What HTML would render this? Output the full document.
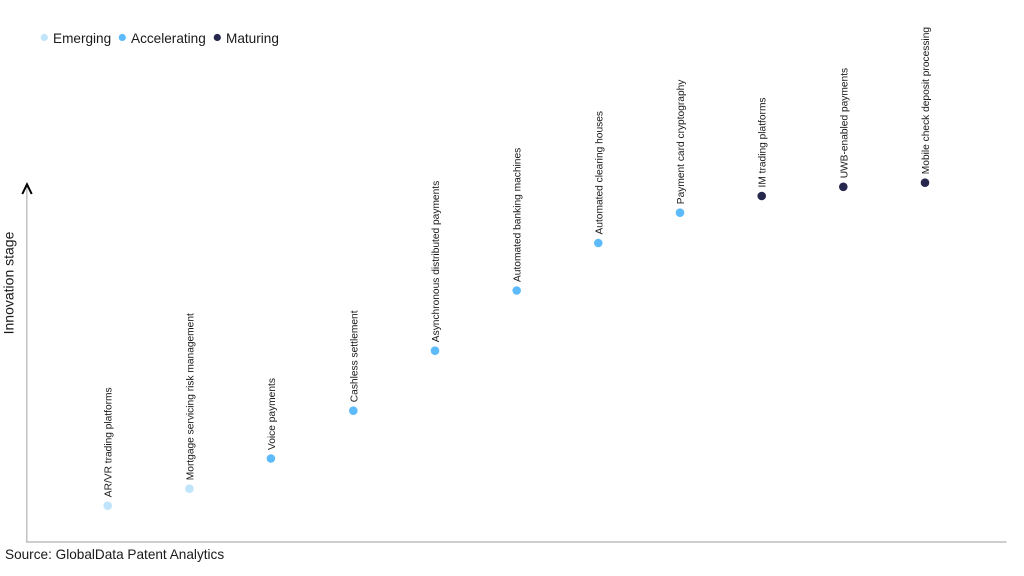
<!DOCTYPE html>
<html>
<head>
<meta charset="utf-8">
<style>
html,body{margin:0;padding:0;background:#fff;}
svg{display:block;font-family:"Liberation Sans",Arial,sans-serif;}
</style>
</head>
<body>
<svg width="1024" height="576" viewBox="0 0 1024 576" xmlns="http://www.w3.org/2000/svg">
  <rect width="1024" height="576" fill="#fff"/>
  <!-- Legend -->
  <circle cx="44.3" cy="37.5" r="3.6" fill="#c0e4fb"/>
  <text x="53" y="42.8" font-size="13.6" fill="#1a1a1a">Emerging</text>
  <circle cx="122.3" cy="37.5" r="3.6" fill="#5ebbfb"/>
  <text x="131" y="42.8" font-size="13.6" fill="#1a1a1a">Accelerating</text>
  <circle cx="217.3" cy="37.5" r="3.6" fill="#26284d"/>
  <text x="226" y="42.8" font-size="13.6" fill="#1a1a1a">Maturing</text>

  <!-- Axes -->
  <line x1="26.8" y1="187" x2="26.8" y2="542.5" stroke="#bdbdbd" stroke-width="1.4"/>
  <line x1="26.1" y1="542" x2="1006.5" y2="542" stroke="#bdbdbd" stroke-width="1.6"/>
  <polyline points="22.3,194 27,184.3 31.7,194" fill="none" stroke="#000" stroke-width="2"/>
  <text transform="translate(13.5,283) rotate(-90)" text-anchor="middle" font-size="14" fill="#1a1a1a">Innovation stage</text>

  <!-- Points -->
  <g font-size="10.2" fill="#1a1a1a">
    <circle cx="107.7" cy="505.7" r="4.3" fill="#c0e4fb"/>
    <text transform="translate(111.7,497.2) rotate(-90)">AR/VR trading platforms</text>

    <circle cx="189.4" cy="488.7" r="4.3" fill="#c0e4fb"/>
    <text transform="translate(193.4,480.2) rotate(-90)">Mortgage servicing risk management</text>

    <circle cx="270.9" cy="458.5" r="4.3" fill="#5ebbfb"/>
    <text transform="translate(274.9,450) rotate(-90)">Voice payments</text>

    <circle cx="353.3" cy="410.7" r="4.3" fill="#5ebbfb"/>
    <text transform="translate(357.3,402.2) rotate(-90)">Cashless settlement</text>

    <circle cx="435" cy="350.7" r="4.3" fill="#5ebbfb"/>
    <text transform="translate(439,342.2) rotate(-90)">Asynchronous distributed payments</text>

    <circle cx="516.7" cy="290.5" r="4.3" fill="#5ebbfb"/>
    <text transform="translate(520.7,282) rotate(-90)">Automated banking machines</text>

    <circle cx="598.3" cy="243" r="4.3" fill="#5ebbfb"/>
    <text transform="translate(602.3,234.5) rotate(-90)">Automated clearing houses</text>

    <circle cx="680" cy="212.7" r="4.3" fill="#5ebbfb"/>
    <text transform="translate(684,204.2) rotate(-90)">Payment card cryptography</text>

    <circle cx="761.7" cy="196" r="4.3" fill="#26284d"/>
    <text transform="translate(765.7,187.5) rotate(-90)">IM trading platforms</text>

    <circle cx="843.3" cy="186.8" r="4.3" fill="#26284d"/>
    <text transform="translate(847.3,178.3) rotate(-90)">UWB-enabled payments</text>

    <circle cx="925" cy="182.7" r="4.3" fill="#26284d"/>
    <text transform="translate(929,174.2) rotate(-90)">Mobile check deposit processing</text>
  </g>

  <!-- Source -->
  <text x="5" y="559" font-size="13.6" fill="#1a1a1a">Source: GlobalData Patent Analytics</text>
</svg>
</body>
</html>
